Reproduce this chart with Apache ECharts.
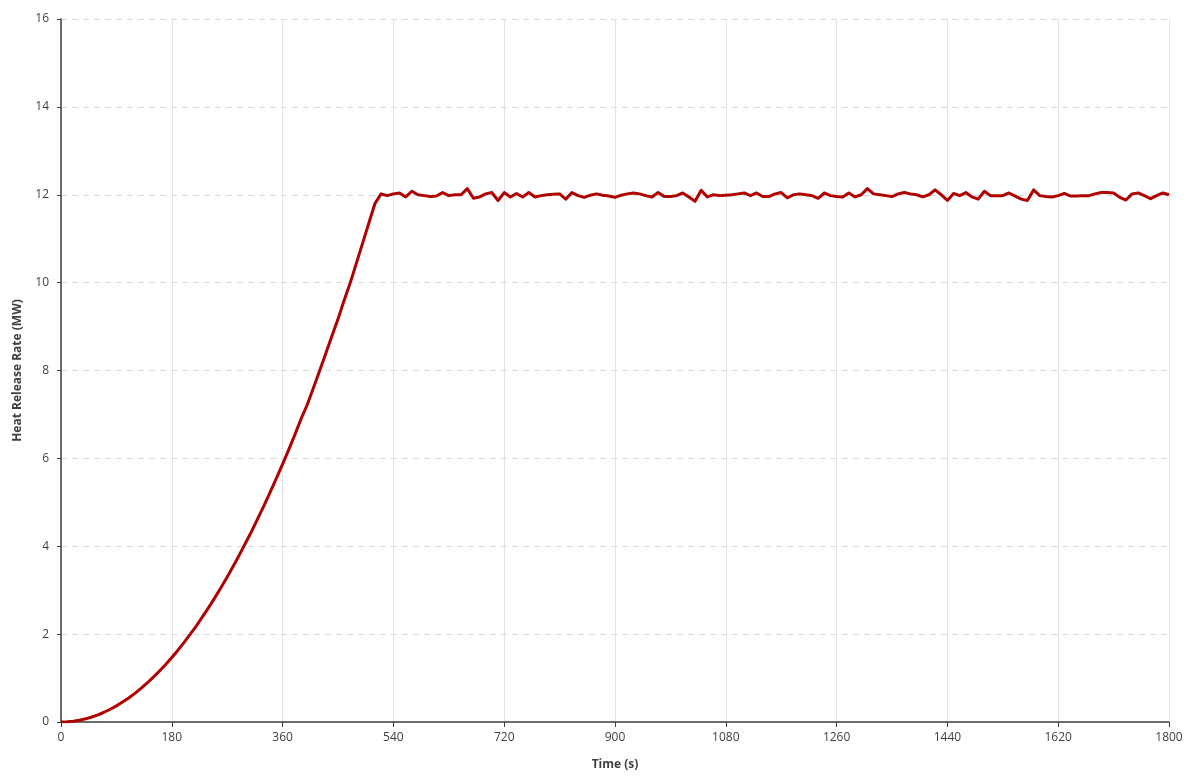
<!DOCTYPE html>
<html>
<head>
<meta charset="utf-8">
<script src="https://cdn.jsdelivr.net/npm/echarts@6/dist/echarts.min.js"></script>
<style>
html,body{margin:0;padding:0;background:#fff;}
#chart{width:1189px;height:776px;}
</style>
</head>
<body>
<div id="chart"></div>
<script>
// Time samples (s)
const times = [
  0,10,20,30,40,50,60,70,80,90,
  100,110,120,130,140,150,160,170,180,190,
  200,210,220,230,240,250,260,270,280,290,
  300,310,320,330,340,350,360,370,380,390,
  400,410,420,430,440,450,460,470,480,490,
  500,510,520,530,540,550,560,570,580,590,
  600,610,620,630,640,650,660,670,680,690,
  700,710,720,730,740,750,760,770,780,790,
  800,810,820,830,840,850,860,870,880,890,
  900,910,920,930,940,950,960,970,980,990,
  1000,1010,1020,1030,1040,1050,1060,1070,1080,1090,
  1100,1110,1120,1130,1140,1150,1160,1170,1180,1190,
  1200,1210,1220,1230,1240,1250,1260,1270,1280,1290,
  1300,1310,1320,1330,1340,1350,1360,1370,1380,1390,
  1400,1410,1420,1430,1440,1450,1460,1470,1480,1490,
  1500,1510,1520,1530,1540,1550,1560,1570,1580,1590,
  1600,1610,1620,1630,1640,1650,1660,1670,1680,1690,
  1700,1710,1720,1730,1740,1750,1760,1770,1780,1790,
  1800
];
// Heat release rate (MW)
const hrr = [
  0,0.005,0.018,0.04,0.072,0.113,0.163,0.222,0.29,0.367,
  0.453,0.548,0.652,0.766,0.888,1.02,1.16,1.31,1.468,1.635,
  1.812,1.998,2.19,2.4,2.61,2.83,3.06,3.3,3.55,3.81,
  4.08,4.35,4.64,4.93,5.24,5.55,5.87,6.2,6.54,6.9,
  7.22,7.6,7.99,8.38,8.78,9.17,9.6,10.0,10.45,10.9,
  11.35,11.8,12.02,11.98,12.02,12.04,11.95,12.08,12.0,11.98,
  11.96,11.97,12.05,11.98,12.0,12.0,12.14,11.92,11.95,12.02,
  12.05,11.87,12.05,11.95,12.03,11.95,12.05,11.95,11.98,12.0,
  12.01,12.02,11.9,12.05,11.98,11.94,11.99,12.02,11.99,11.97,
  11.94,11.99,12.02,12.04,12.02,11.98,11.95,12.05,11.96,11.96,
  11.98,12.04,11.95,11.85,12.1,11.95,12.0,11.98,11.99,12.0,
  12.02,12.04,11.98,12.04,11.96,11.96,12.02,12.05,11.93,12.0,
  12.02,12.0,11.98,11.92,12.04,11.98,11.96,11.95,12.04,11.95,
  12.0,12.14,12.02,12.0,11.98,11.96,12.02,12.05,12.02,12.0,
  11.95,12.0,12.11,12.0,11.87,12.03,11.98,12.05,11.95,11.9,
  12.08,11.98,11.98,11.98,12.04,11.97,11.9,11.87,12.11,11.98,
  11.96,11.95,11.98,12.03,11.97,11.97,11.98,11.98,12.02,12.05,
  12.05,12.04,11.94,11.88,12.02,12.04,11.98,11.91,11.98,12.04,
  12.0
];
const xTitle = 'Time (s)';
const yTitle = 'Heat Release Rate (MW)';

const FONT = '"Open Sans", "Noto Sans", "Liberation Sans", sans-serif';
const AX = '#3f3f3f';

const chart = echarts.init(document.getElementById('chart'), null, {renderer: 'canvas'});
chart.setOption({
  animation: false,
  backgroundColor: '#ffffff',
  grid: {left: 61, right: 20, top: 19, bottom: 53, containLabel: false},
  xAxis: {
    type: 'value', min: 0, max: 1800, interval: 180,
    name: xTitle, nameLocation: 'middle', nameGap: 37,
    nameTextStyle: {fontFamily: FONT, fontSize: 12, fontWeight: 'bold', color: AX},
    axisLine: {show: true, onZero: false, lineStyle: {color: AX, width: 1.5}},
    axisTick: {show: true, length: 5, lineStyle: {color: AX}},
    axisLabel: {margin: 10, fontFamily: FONT, fontSize: 12, color: AX, formatter: v => String(v)},
    splitLine: {show: true, lineStyle: {color: '#e3e3e3', width: 1, type: 'solid'}}
  },
  yAxis: {
    type: 'value', min: 0, max: 16, interval: 2,
    name: yTitle, nameLocation: 'middle', nameGap: 37,
    nameTextStyle: {fontFamily: FONT, fontSize: 12, fontWeight: 'bold', color: AX},
    axisLine: {show: true, onZero: false, lineStyle: {color: AX, width: 1.5}},
    axisTick: {show: true, length: 4, lineStyle: {color: AX}},
    axisLabel: {margin: 12, fontFamily: FONT, fontSize: 12, color: AX, formatter: v => String(v)},
    splitLine: {show: true, lineStyle: {color: '#d9d9d9', width: 1, type: [6, 5]}}
  },
  series: [{
    type: 'line',
    data: times.map((t, i) => [t, hrr[i]]),
    showSymbol: false,
    symbol: 'none',
    smooth: false,
    lineStyle: {color: '#B00000', width: 3, join: 'round'},
    z: 5
  }]
});
</script>
</body>
</html>
